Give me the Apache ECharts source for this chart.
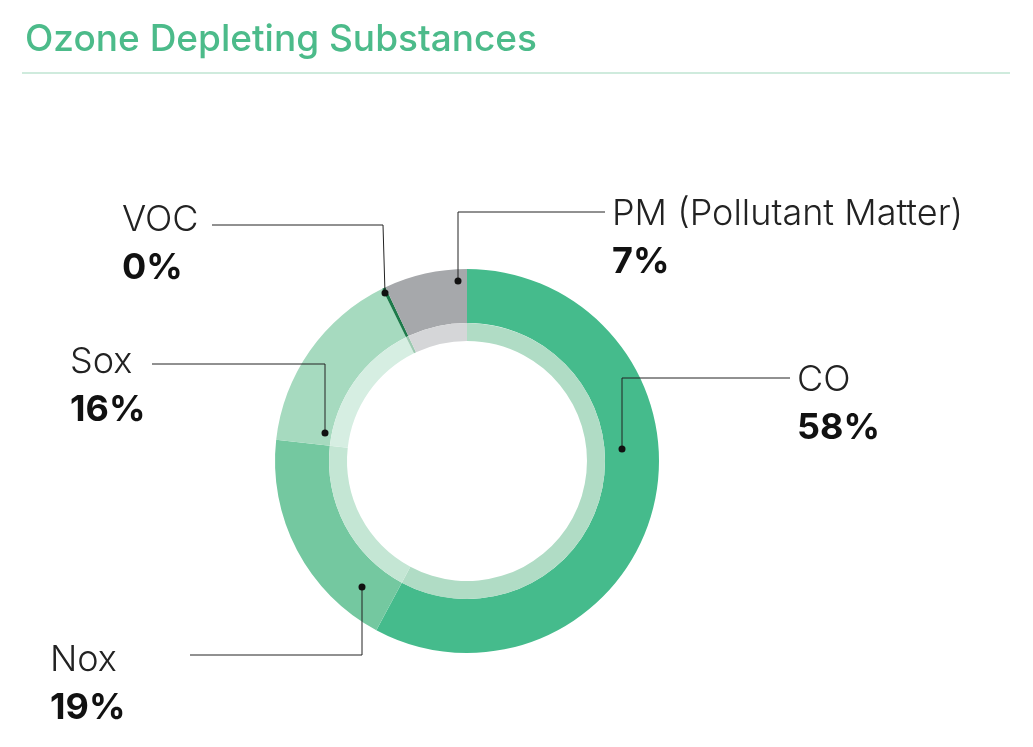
<!DOCTYPE html>
<html><head><meta charset="utf-8">
<script src="https://cdn.jsdelivr.net/npm/echarts@6/dist/echarts.min.js"></script>
<style>html,body{margin:0;padding:0;background:#fff}#c{width:1033px;height:747px}</style>
</head><body><div id="c"></div>
<script>
const categories = ['CO','Nox','Sox','VOC','PM (Pollutant Matter)'];
const values = [58, 19, 16, 0.3, 7];
const pctLabels = ['58%','19%','16%','0%','7%'];
const colors = ['#45bb8c','#74c8a0','#a6dabf','#1d7a4a','#a6a8ab'];
const innerColors = ['#b0dcc5','#c4e6d4','#d6eee2','#9cc9b0','#d5d6d8'];
// label layout: label x/top, line points [dot, elbow, end]
const layoutCfg = [
  {x:797,y:356,pts:[[622,449],[622,378],[790,378]]},
  {x:50,y:636,pts:[[362,587],[362,655],[190,655]]},
  {x:70,y:338,pts:[[325,433],[325,364],[152,364]]},
  {x:122,y:196,pts:[[385,293],[383,225],[212,225]]},
  {x:612,y:190,pts:[[458,281],[458,212],[605,212]]}
];
const chart = echarts.init(document.getElementById('c'));
const data = categories.map((n,i)=>({name:n,value:values[i],itemStyle:{color:colors[i]}}));
const innerData = categories.map((n,i)=>({name:n,value:values[i],itemStyle:{color:innerColors[i]}}));
const g = [{type:'line',shape:{x1:22,y1:73,x2:1010,y2:73},style:{stroke:'#bfe5d2',lineWidth:1.5}}];
layoutCfg.forEach(l=>{
  g.push({type:'polyline',z:100,shape:{points:l.pts},style:{stroke:'#222',lineWidth:1,fill:null}});
  g.push({type:'circle',z:101,shape:{cx:l.pts[0][0],cy:l.pts[0][1],r:3.5},style:{fill:'#111'}});
});
chart.setOption({
  animation:false,
  title:{text:'Ozone Depleting Substances',left:20,top:16,textStyle:{fontFamily:'Inter',fontWeight:500,fontSize:37,color:'#4cbb8a'}},
  graphic:g,
  series:[
    {type:'pie',center:[467,461],radius:[138,192],startAngle:90,clockwise:true,data:data,
     label:{show:true,formatter:p=>'{n|'+p.name+'}\n{p|'+pctLabels[p.dataIndex]+'}',
       rich:{n:{fontFamily:'Inter',fontWeight:300,fontSize:36,color:'#222',lineHeight:48},
             p:{fontFamily:'Inter',fontWeight:'bold',fontSize:36,color:'#111',lineHeight:48}}},
     labelLine:{show:false},
     labelLayout:p=>{const l=layoutCfg[p.dataIndex];return {x:l.x,y:l.y,align:'left',verticalAlign:'top'};},
     emphasis:{disabled:true}},
    {type:'pie',center:[467,461],radius:[120,138],startAngle:90,clockwise:true,data:innerData,
     label:{show:false},labelLine:{show:false},emphasis:{disabled:true},silent:true}
  ]
});
</script></body></html>
